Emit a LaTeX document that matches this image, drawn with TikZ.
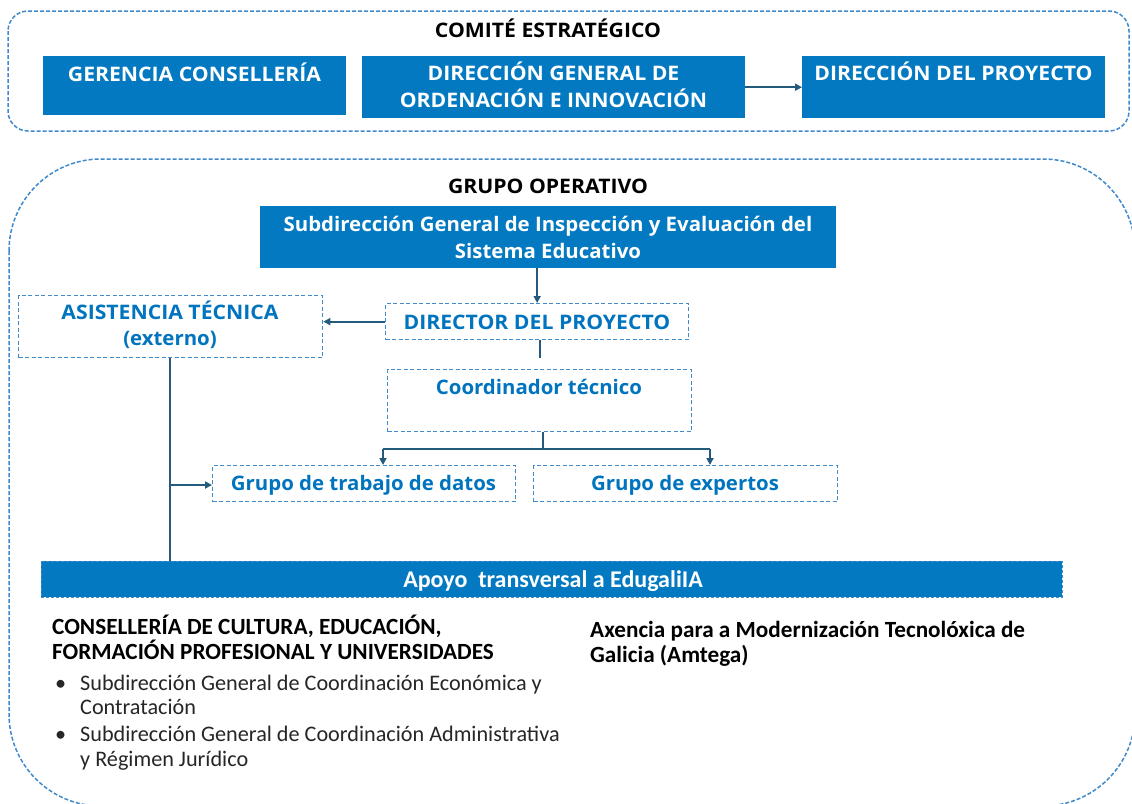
\documentclass[tikz,border=0pt]{standalone}
\usepackage{fontspec}
\setmainfont{Carlito}
\newfontfamily\aptfont[FakeStretch=1.02]{Open Sans}
\newfontfamily\aptcaps[FakeStretch=1.06]{Open Sans}
\usetikzlibrary{arrows.meta,calc}
\definecolor{bfill}{RGB}{2,121,193}
\definecolor{dline}{RGB}{64,138,204}
\definecolor{btext}{RGB}{0,116,190}
\definecolor{conncol}{RGB}{36,90,124}
\begin{document}
\begin{tikzpicture}[x=1pt,y=-1pt,
  solidbox/.style={fill=bfill, draw=none, anchor=north west, inner sep=0pt},
  dbox/.style={draw=dline, dash pattern=on 4pt off 2.5pt, line width=1.3pt, fill=white, anchor=north west, inner sep=0pt},
  frame/.style={draw=dline, dash pattern=on 4pt off 2pt, line width=1.5pt},
  wtxt/.style={text=white, font=\aptfont\bfseries\fontsize{20}{27}\selectfont, inner sep=0pt, anchor=base},
  btxt/.style={text=btext, font=\aptfont\bfseries\fontsize{20}{27}\selectfont, inner sep=0pt, anchor=base},
  capsfont/.style={font=\aptcaps\bfseries\fontsize{20}{27}\selectfont},
  ktxt/.style={text=black, inner sep=0pt, anchor=base, capsfont},
  cbold/.style={text=black, font=\bfseries\fontsize{23.2}{25}\selectfont, inner sep=0pt, anchor=base west},
  creg/.style={text=black!85, font=\fontsize{22.2}{25}\selectfont, inner sep=0pt, anchor=base west},
  conn/.style={draw=conncol, line width=1.8pt},
  arr/.style={conn, -{Triangle[length=7pt,width=7pt]}}]
\useasboundingbox (0,0) rectangle (1132,803);
\clip (0,0) rectangle (1132,803);
\fill[white] (0,0) rectangle (1132,803);

% frames
\draw[frame, rounded corners=20pt] (8,11) rectangle (1129,131);
\draw[frame, rounded corners=92pt] (9,159) rectangle (1135,806);

% Comite estrategico
\node[ktxt] (tcomite) at (548,37) {COMITÉ ESTRATÉGICO};
\node[solidbox, minimum width=303pt, minimum height=59pt] (gc) at (43,56) {};
\node[solidbox, minimum width=383pt, minimum height=62pt] (dg) at (362,56) {};
\node[solidbox, minimum width=303pt, minimum height=62pt] (dp) at (802,56) {};
\node[wtxt, capsfont] (tgc) at (194.5,81) {GERENCIA CONSELLERÍA};
\node[wtxt, capsfont] (tdg1) at (553.5,80) {DIRECCIÓN GENERAL DE};
\node[wtxt, capsfont] (tdg2) at (553.5,107) {ORDENACIÓN E INNOVACIÓN};
\node[wtxt, capsfont] (tdp) at (953.5,80) {DIRECCIÓN DEL PROYECTO};
\draw[arr] (dg.east) -- (dp.west);

% Grupo operativo
\node[ktxt] (tgrupo) at (548,193) {GRUPO OPERATIVO};
\node[solidbox, minimum width=576pt, minimum height=62pt] (sub) at (260,206) {};
\node[wtxt] (tsub1) at (548,231) {Subdirección General de Inspección y Evaluación del};
\node[wtxt] (tsub2) at (548,258) {Sistema Educativo};

\node[dbox, minimum width=303pt, minimum height=36pt] (dir) at (385,303) {};
\node[btxt, capsfont] (tdir) at (537,329) {DIRECTOR DEL PROYECTO};
\node[dbox, minimum width=304pt, minimum height=62pt] (asis) at (18,295) {};
\node[btxt, capsfont] (tasis1) at (170,319) {ASISTENCIA TÉCNICA};
\node[btxt] (tasis2) at (170,345) {(externo)};
\node[dbox, minimum width=304pt, minimum height=62pt] (coord) at (387,369) {};
\node[btxt] (tcoord) at (539,394) {Coordinador técnico};
\node[dbox, minimum width=303pt, minimum height=36pt] (gtd) at (212,465) {};
\node[btxt] (tgtd) at (363.5,490) {Grupo de trabajo de datos};
\node[dbox, minimum width=304pt, minimum height=36pt] (gexp) at (533,465) {};
\node[btxt] (tgexp) at (685,490) {Grupo de expertos};

\node[solidbox, draw=dline, dash pattern=on 3pt off 2pt, line width=0.8pt, minimum width=1021pt, minimum height=36pt] (apoyo) at (41,561) {};
\node[text=white, font=\bfseries\fontsize{24}{25}\selectfont, inner sep=0pt, anchor=base] (tapoyo) at (553,587) {Apoyo\ \ transversal a EdugaliIA};

% connectors
\draw[arr] (sub.south -| dir.north) -- (dir.north);
\draw[arr] (dir.west) -- (dir.west -| asis.east);
\coordinate (dirend) at ($(dir.south)+(3,18)$);
\draw[conn] (dir.south -| dirend) -- (dirend);
\coordinate (cj) at ($(coord.south)+(3,18)$);
\draw[conn] (coord.south -| cj) -- (cj);
\coordinate (la) at (383,449);
\coordinate (lb) at (710,449);
\draw[conn] (la) -- (lb);
\draw[arr] (la) -- (la |- gtd.north);
\draw[arr] (lb) -- (lb |- gexp.north);
\coordinate (av) at (170,485);
\draw[conn] (asis.south -| av) -- (apoyo.north -| av);
\draw[arr] (av) -- (av -| gtd.west);

% bottom texts
\node[cbold] (cons1) at (52,634) {CONSELLERÍA DE CULTURA, EDUCACIÓN,};
\node[cbold] (cons2) at (52,659) {FORMACIÓN PROFESIONAL Y UNIVERSIDADES};
\node[creg] (bul1) at (55,690) {•};
\node[creg] (l1a) at (80,690) {Subdirección General de Coordinación Económica y};
\node[creg] (l1b) at (80,714) {Contratación};
\node[creg] (bul2) at (55,741) {•};
\node[creg] (l2a) at (80,741) {Subdirección General de Coordinación Administrativa};
\node[creg] (l2b) at (80,766) {y Régimen Jurídico};
\node[cbold] (ax1) at (590,637) {Axencia para a Modernización Tecnolóxica de};
\node[cbold] (ax2) at (590,662) {Galicia (Amtega)};
\end{tikzpicture}
\end{document}
